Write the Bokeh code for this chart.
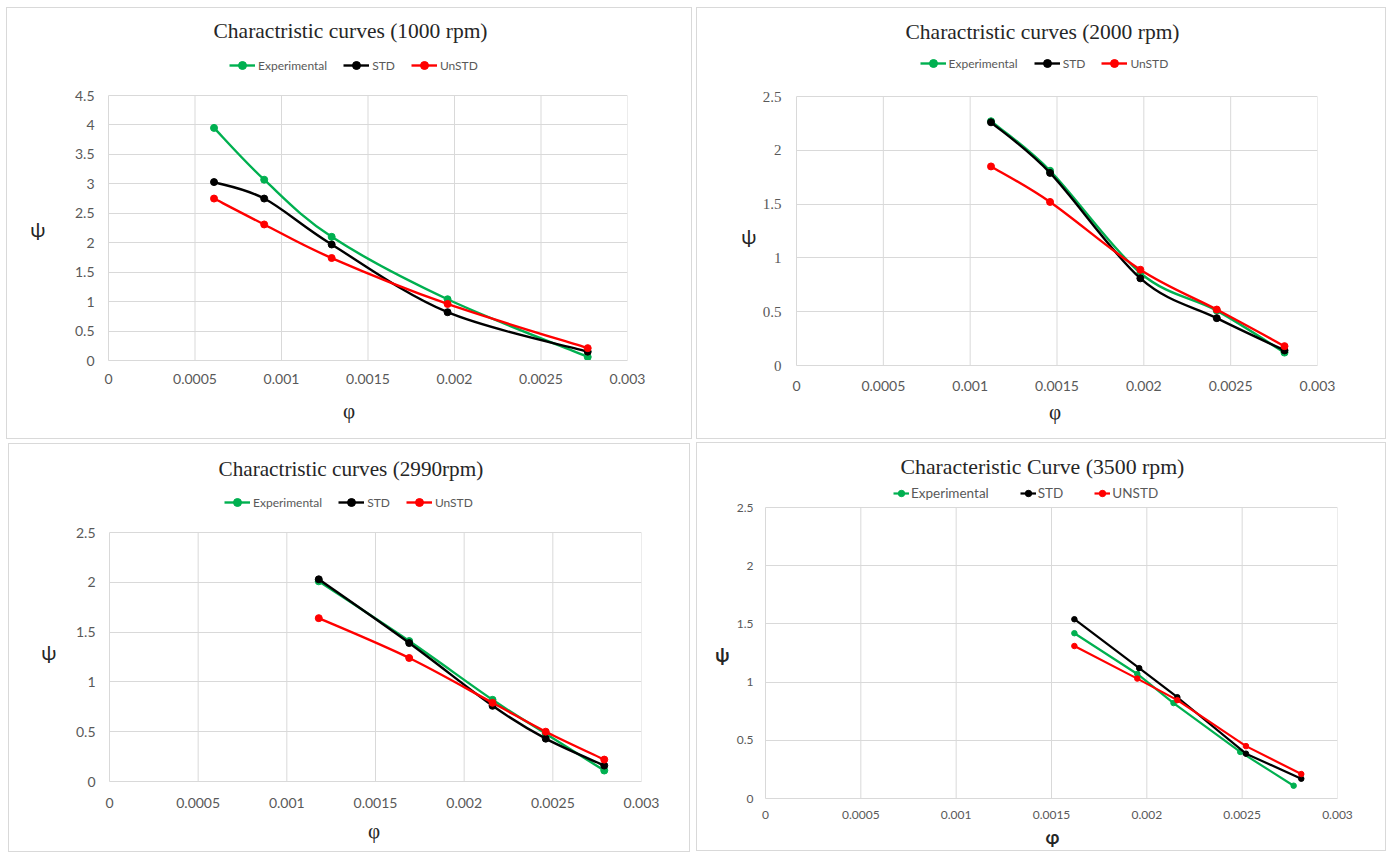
from bokeh.plotting import figure
from bokeh.models import (ColumnDataSource, Legend, LegendItem, Title,
                          FixedTicker, Range1d, LinearAxis)
from bokeh.embed import file_html
from bokeh.resources import INLINE

# ---------------- data ----------------
series_names = ["Experimental", "STD", "UnSTD"]
series_names_3500 = ["Experimental", "STD", "UNSTD"]

phi_1000 = [0.00061, 0.00090, 0.00129, 0.00196, 0.00277]
exp_1000 = [3.95, 3.07, 2.10, 1.04, 0.06]
std_1000 = [3.03, 2.75, 1.97, 0.82, 0.15]
unstd_1000 = [2.75, 2.31, 1.74, 0.96, 0.21]

phi_2000 = [0.00112, 0.00146, 0.00198, 0.00242, 0.00281]
exp_2000 = [2.27, 1.81, 0.86, 0.51, 0.12]
std_2000 = [2.26, 1.79, 0.81, 0.44, 0.14]
unstd_2000 = [1.85, 1.52, 0.89, 0.52, 0.18]

phi_2990 = [0.00118, 0.00169, 0.00216, 0.00246, 0.00279]
exp_2990 = [2.01, 1.41, 0.82, 0.48, 0.11]
std_2990 = [2.03, 1.39, 0.76, 0.43, 0.16]
unstd_2990 = [1.64, 1.24, 0.79, 0.50, 0.22]

phi_exp_3500 = [0.00162, 0.00195, 0.00214, 0.00249, 0.00277]
exp_3500 = [1.42, 1.07, 0.82, 0.40, 0.11]
phi_std_3500 = [0.00162, 0.00196, 0.00216, 0.00252, 0.00281]
std_3500 = [1.54, 1.12, 0.87, 0.385, 0.17]
phi_unstd_3500 = [0.00162, 0.00195, 0.00216, 0.00252, 0.00281]
unstd_3500 = [1.31, 1.03, 0.845, 0.45, 0.21]

x_ticks = [0, 0.0005, 0.001, 0.0015, 0.002, 0.0025, 0.003]
x_tick_labels = ["0", "0.0005", "0.001", "0.0015", "0.002", "0.0025", "0.003"]
y_ticks_45 = [0, 0.5, 1, 1.5, 2, 2.5, 3, 3.5, 4, 4.5]
y_tick_labels_45 = ["0", "0.5", "1", "1.5", "2", "2.5", "3", "3.5", "4", "4.5"]
y_ticks_25 = [0, 0.5, 1, 1.5, 2, 2.5]
y_tick_labels_25 = ["0", "0.5", "1", "1.5", "2", "2.5"]

titles = ["Charactristic curves (1000 rpm)", "Charactristic curves (2000 rpm)",
          "Charactristic curves (2990rpm)", "Characteristic Curve (3500 rpm)"]

COLORS = ["#00B050", "#000000", "#FF0000"]
GRID = "#d9d9d9"
TICK_COLOR = "#595959"
TEXT_COLOR = "#262626"


def bezier_source(xs, ys):
    """Excel-like smoothed line: bezier control points derived from the data."""
    x = list(map(float, xs)); y = list(map(float, ys))
    n = len(x)
    d = dict(x0=[], y0=[], x1=[], y1=[], cx0=[], cy0=[], cx1=[], cy1=[])
    for i in range(n - 1):
        ip = max(i - 1, 0); inn = min(i + 2, n - 1)
        d["x0"].append(x[i]); d["y0"].append(y[i])
        d["x1"].append(x[i + 1]); d["y1"].append(y[i + 1])
        d["cx0"].append(x[i] + (x[i + 1] - x[ip]) / 6.0)
        d["cy0"].append(y[i] + (y[i + 1] - y[ip]) / 6.0)
        d["cx1"].append(x[i + 1] - (x[inn] - x[i]) / 6.0)
        d["cy1"].append(y[i + 1] - (y[inn] - y[i]) / 6.0)
    return ColumnDataSource(d)


def make_panel(cfg):
    bx, by = cfg["box"]
    pl, pt, pw, ph, pr, pb = cfg["plot"]       # visible plot-area geometry (px)
    ext = cfg["ext"]                           # frame extends above plot area (px)
    ymax = cfg["yticks"][-1]
    ytop = ymax * (ph + ext) / ph              # range end so the legend fits inside
    p = figure(width=pl + pw + pr, height=pt + ph + pb, sizing_mode="fixed",
               min_border_left=pl, min_border_top=pt - ext,
               min_border_right=pr, min_border_bottom=pb,
               x_range=Range1d(0, 0.003), y_range=Range1d(0, ytop),
               output_backend="svg", toolbar_location=None,
               background_fill_color="white", border_fill_color="white",
               outline_line_color=None)
    p.styles = {"position": "absolute", "left": f"{bx}px", "top": f"{by}px",
                "border": "1px solid #d9d9d9"}

    p.xaxis.ticker = FixedTicker(ticks=x_ticks)
    p.yaxis.ticker = FixedTicker(ticks=cfg["yticks"])
    p.yaxis.bounds = (0, ymax)
    p.xaxis.major_label_overrides = dict(zip(x_ticks, x_tick_labels))
    p.yaxis.major_label_overrides = dict(zip(cfg["yticks"], cfg["ylabels"]))
    for ax in (p.xaxis, p.yaxis):
        ax.axis_line_color = GRID
        ax.major_tick_line_color = None
        ax.minor_tick_line_color = None
        ax.major_tick_out = 0
        ax.major_tick_in = 0
        ax.major_label_text_color = TICK_COLOR
    p.xaxis.major_label_text_font = "Lato"
    p.xaxis.major_label_text_font_size = cfg["tick_size"]
    p.yaxis.major_label_text_font = cfg.get("ytick_font", "Lato")
    p.yaxis.major_label_text_font_size = cfg.get("ytick_size", cfg["tick_size"])
    p.xaxis.major_label_standoff = cfg["xstand"]
    p.yaxis.major_label_standoff = cfg["ystand"]
    p.ygrid.grid_line_color = GRID
    p.xgrid.visible = False
    # vertical grid lines limited to the plot area
    p.segment(x0=x_ticks, y0=[0] * len(x_ticks), x1=x_ticks,
              y1=[ymax] * len(x_ticks), line_color=GRID, line_width=1)

    # y axis name (psi), upright as in the reference, on an outer left axis
    psi_y = cfg["psi_y"]
    psi_axis = LinearAxis(ticker=FixedTicker(ticks=[psi_y]),
                          major_label_overrides={psi_y: "ψ"},
                          axis_line_color=None, major_tick_line_color=None,
                          minor_tick_line_color=None, major_tick_out=0,
                          major_tick_in=0, major_label_standoff=cfg["psi_stand"],
                          major_label_text_font=cfg["psi_font"],
                          major_label_text_font_size=cfg["psi_size"],
                          major_label_text_font_style=cfg["axis_style"],
                          major_label_text_color=TEXT_COLOR)
    p.add_layout(psi_axis, "left")

    items = []
    for (xs, ys), name, col in zip(cfg["series"], cfg["names"], COLORS):
        if cfg["smooth"]:
            r1 = p.bezier("x0", "y0", "x1", "y1", "cx0", "cy0", "cx1", "cy1",
                          source=bezier_source(xs, ys), line_color=col,
                          line_width=cfg["lw"])
        else:
            r1 = p.line(xs, ys, line_color=col, line_width=cfg["lw"])
        r2 = p.scatter(xs, ys, marker="circle", size=cfg["ms"],
                       fill_color=col, line_color=col)
        items.append(LegendItem(label=name, renderers=[r1, r2]))

    lg = cfg["legend"]
    legend = Legend(items=items, orientation="horizontal",
                    location=(lg["vx"], ph + lg["dy"] - 10),
                    glyph_width=lg["gw"], glyph_height=20, label_height=20,
                    label_standoff=lg["stand"], spacing=lg["spacing"],
                    padding=0, margin=0,
                    border_line_color=None, background_fill_alpha=0,
                    label_text_font="Lato", label_text_font_size=lg["size"],
                    label_text_color=TICK_COLOR)
    p.add_layout(legend)

    p.title = Title(text=cfg["title"], align="left", offset=cfg["title_off"],
                    standoff=cfg["title_stand"],
                    text_font="Liberation Serif", text_font_size=cfg["title_size"],
                    text_font_style="normal", text_color=TEXT_COLOR)

    p.add_layout(Title(text="φ", align="left", offset=cfg["phi_off"],
                       standoff=cfg["phi_stand"],
                       text_font=cfg["phi_font"], text_font_size=cfg["phi_size"],
                       text_font_style=cfg["axis_style"], text_color=TEXT_COLOR),
                 "below")
    return p


cfgs = [
    dict(box=(6, 7), plot=(101, 87, 519, 265, 66, 80), ext=45,
         yticks=y_ticks_45, ylabels=y_tick_labels_45,
         series=[(phi_1000, exp_1000), (phi_1000, std_1000), (phi_1000, unstd_1000)],
         names=series_names, smooth=True, lw=2.4, ms=7, tick_size="14px",
         xstand=13, ystand=14,
         legend=dict(vx=121, dy=30, gw=26, stand=3, spacing=16, size="12px"),
         title=titles[0], title_off=105, title_stand=16, title_size="21.5px",
         psi_y=2.24, psi_stand=26, psi_font="Lato", psi_size="20px",
         phi_off=234.5, phi_stand=20, phi_font="Liberation Serif", phi_size="21px",
         axis_style="normal"),
    dict(box=(696, 7), plot=(99, 88, 521, 269, 70, 75), ext=48,
         yticks=y_ticks_25, ylabels=y_tick_labels_25,
         series=[(phi_2000, exp_2000), (phi_2000, std_2000), (phi_2000, unstd_2000)],
         names=series_names, smooth=True, lw=2.4, ms=7, tick_size="14px",
         ytick_font="Liberation Serif", ytick_size="15px",
         xstand=15, ystand=15,
         legend=dict(vx=123.5, dy=33, gw=26, stand=3, spacing=16, size="12px"),
         title=titles[1], title_off=109, title_stand=10, title_size="21.5px",
         psi_y=1.2, psi_stand=3, psi_font="Lato", psi_size="20px",
         phi_off=252.5, phi_stand=8, phi_font="Liberation Serif", phi_size="21px",
         axis_style="normal"),
    dict(box=(8, 443), plot=(100, 88, 532, 249, 50, 72), ext=45,
         yticks=y_ticks_25, ylabels=y_tick_labels_25,
         series=[(phi_2990, exp_2990), (phi_2990, std_2990), (phi_2990, unstd_2990)],
         names=series_names, smooth=True, lw=2.4, ms=7, tick_size="14px",
         xstand=16, ystand=14,
         legend=dict(vx=115, dy=30, gw=26, stand=3, spacing=16, size="12px"),
         title=titles[2], title_off=109, title_stand=13, title_size="21.2px",
         psi_y=1.3, psi_stand=16, psi_font="Lato", psi_size="20px",
         phi_off=258.5, phi_stand=12, phi_font="Liberation Serif", phi_size="21px",
         axis_style="normal"),
    dict(box=(696, 442), plot=(68, 64, 572, 291, 50, 54), ext=29,
         yticks=y_ticks_25, ylabels=y_tick_labels_25,
         series=[(phi_exp_3500, exp_3500), (phi_std_3500, std_3500),
                 (phi_unstd_3500, unstd_3500)],
         names=series_names_3500, smooth=False, lw=2.2, ms=5.5, tick_size="12px",
         xstand=12, ystand=12,
         legend=dict(vx=128, dy=14, gw=16, stand=2, spacing=31, size="13.5px"),
         title=titles[3], title_off=135, title_stand=0, title_size="21.8px",
         psi_y=1.23, psi_stand=4, psi_font="Lato", psi_size="18px",
         phi_off=280, phi_stand=5, phi_font="Lato", phi_size="18px",
         axis_style="bold"),
]

panels = [make_panel(c) for c in cfgs]

with open("out.html", "w") as f:
    f.write(file_html(panels, INLINE))
